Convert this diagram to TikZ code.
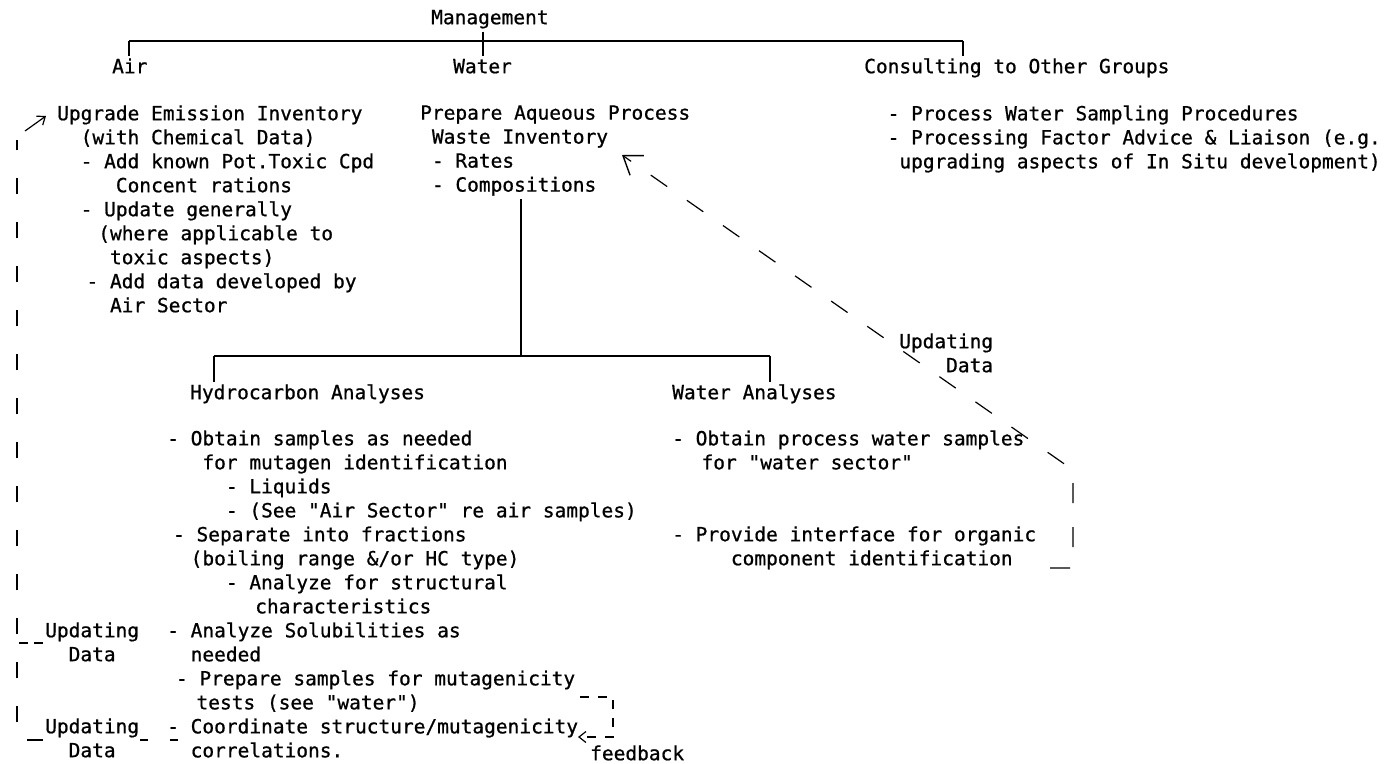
\documentclass[tikz,border=0pt]{standalone}
\usepackage{fontspec}
\newfontfamily\typew{DejaVu Sans Mono}[FakeBold=0.8]
\usetikzlibrary{arrows.meta}
\newlength\chw
\setlength\chw{11.74pt}
\newcommand\indc[1]{\hspace*{#1\chw}}
\tikzset{
  txt/.style={anchor=north west, yshift=16.8pt, inner sep=0pt, align=left,
    font=\typew\fontsize{19.5}{24}\selectfont, execute at begin node=\strut},
  branch/.style={line width=1.6pt},
  fb/.style={line width=1.2pt, dash pattern=on 16pt off 28pt},
  barb/.style={-{Straight Barb[length=17pt,width=24pt,line width=1.4pt]}},
  smallbarb/.style={-{Straight Barb[length=7pt,width=11pt,line width=1.2pt]}}
}
\begin{document}
\begin{tikzpicture}[x = 1pt, y = -1pt]
    \useasboundingbox (0,0) rectangle (1394,763);
    % top level
    \node[txt] (mgmt) at (431,24) {Management};
    \node[txt] (air) at (112,73) {Air};
    \node[txt] (water) at (453,73) {Water};
    \node[txt] (cons) at (864,73) {Consulting to Other Groups};
    \node[txt] (upg) at (57,122) {Upgrade Emission Inventory\\
        \indc{2}(with Chemical Data)\\
        \indc{2}- Add known Pot.Toxic Cpd\\
        \indc{5}Concent rations\\
        \indc{2}- Update generally\\
        \indc{3.5}(where applicable to\\
        \indc{4.5}toxic aspects)\\
        \indc{2.5}- Add data developed by\\
        \indc{4.5}Air Sector};
    \node[txt] (wtop) at (420,122) {Prepare Aqueous Process\\
        \indc{1}Waste Inventory\\
        \indc{1}- Rates\\
        \indc{1}- Compositions};
    \node[txt] (consl) at (864,122) {\indc{2}- Process Water Sampling Procedures\\
        \indc{2}- Processing Factor Advice \& Liaison (e.g.\\
        \indc{3}upgrading aspects of In Situ development)};
    % second level
    \node[txt] (hc) at (190,399) {Hydrocarbon Analyses};
    \node[txt] (wa) at (672,399) {Water Analyses};
    \node[txt] (hcl) at (167,447) {- Obtain samples as needed\\
        \indc{3}for mutagen identification\\
        \indc{5}- Liquids\\
        \indc{5}- (See "Air Sector" re air samples)\\
        \indc{0.5}- Separate into fractions\\
        \indc{2}(boiling range \&/or HC type)\\
        \indc{5}- Analyze for structural\\
        \indc{7.5}characteristics\\
        - Analyze Solubilities as\\
        \indc{2}needed\\
        \indc{0.75}- Prepare samples for mutagenicity\\
        \indc{2.5}tests (see "water")\\
        - Coordinate structure/mutagenicity\\
        \indc{2}correlations.};
    \node[txt] (wa1) at (672,447) {- Obtain process water samples\\
        \indc{2.5}for "water sector"};
    \node[txt] (wa2) at (672,543) {- Provide interface for organic\\
        \indc{5}component identification};
    % feedback labels
    \node[txt] (updr) at (899,350) {Updating\\\indc{4}Data};
    \node[txt] (upd1) at (45,639) {Updating\\\indc{2}Data};
    \node[txt] (upd2) at (45,735) {Updating\\\indc{2}Data};
    \node[txt] (feedb) at (590,760) {feedback};
    % tree
    \coordinate (tl) at (129,41);
    \coordinate (tw) at (483,41);
    \coordinate (tr) at (963,41);
    \coordinate (bl) at (214,356);
    \coordinate (bw) at (521,356);
    \coordinate (br) at (770,356);
    \draw[branch] (tl) -- (tr);
    \draw[branch] (tl) -- (tl |- air.north);
    \draw[branch] (tw |- mgmt.south) -- (tw |- water.north);
    \draw[branch] (tr) -- (tr |- cons.north);
    \draw[branch] (bw |- wtop.south) -- (bw);
    \draw[branch] (bl) -- (br);
    \draw[branch] (bl) -- (bl |- hc.north);
    \draw[branch] (br) -- (br |- wa.north);
    % updating data loops
    \coordinate (rb0) at (1050,568);
    \coordinate (rb1) at (1073,568);
    \coordinate (rb2) at (1073,470);
    \coordinate (wtip) at (622,155);
    \draw[fb, barb, dash pattern=on 20pt off 24pt] (rb0) -- (rb1) -- (rb2) -- (wtip);
    \coordinate (fb0) at (580,697);
    \coordinate (fb1) at (613,697);
    \coordinate (fb2) at (613,737);
    \coordinate (fb3) at (578,737);
    \draw[fb, smallbarb, dash pattern=on 9pt off 9pt] (fb0) -- (fb1) -- (fb2) -- (fb3);
    \coordinate (lc0) at (178,740);
    \coordinate (u2e) at (140,740);
    \coordinate (u2w) at (43,740);
    \coordinate (lb) at (17,740);
    \coordinate (lt) at (17,140);
    \coordinate (la) at (25,131);
    \coordinate (ltip) at (46,116);
    \coordinate (u1w) at (43,643);
    \coordinate (lm) at (17,643);
    \draw[fb, dash pattern=on 8pt off 22pt] (lc0) -- (u2e);
    \draw[fb] (u2w) -- (lb) -- (lt);
    \draw[fb, dash pattern=on 9pt off 6pt] (u1w) -- (lm);
    \draw[line width=1.2pt, smallbarb] (la) -- (ltip);
\end{tikzpicture}
\end{document}
